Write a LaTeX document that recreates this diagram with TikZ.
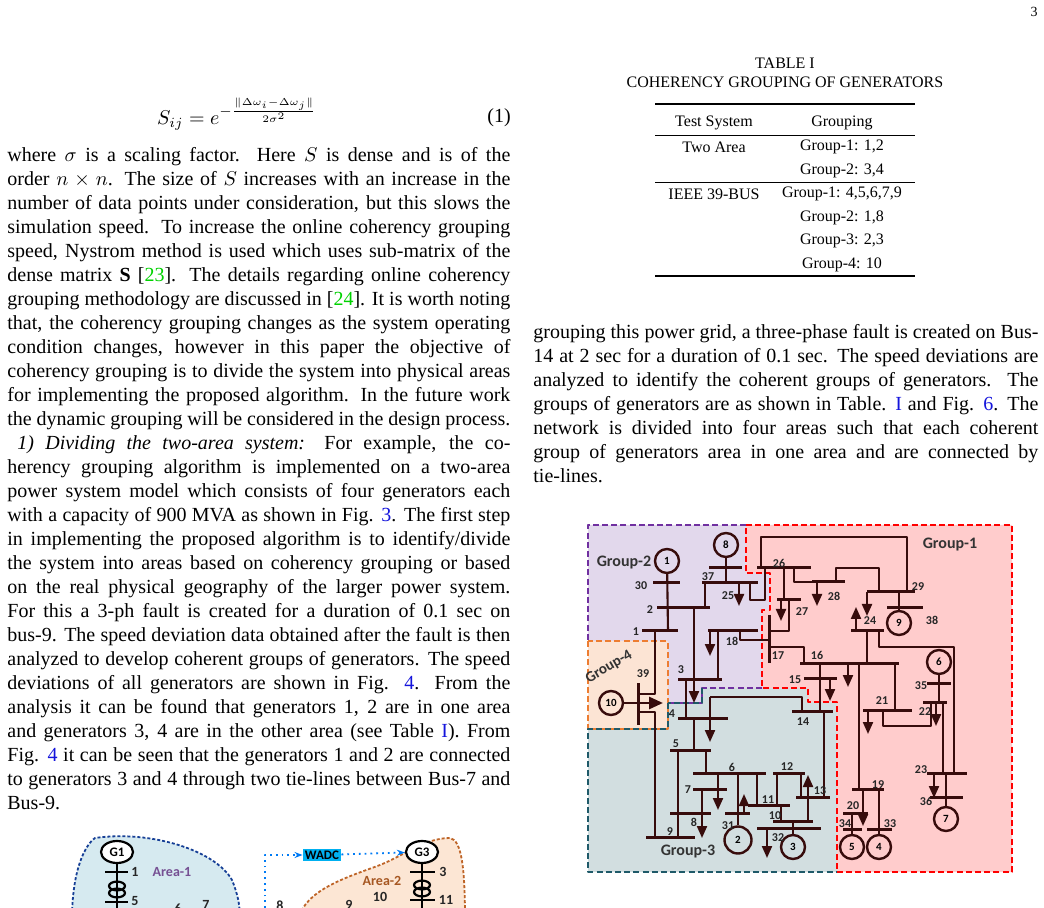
\documentclass[tikz,border=0pt]{standalone}
\usepackage{amsmath}
\usepackage{fontspec}
\setmainfont{Liberation Serif}
\newfontfamily\diagfont{Carlito}
\usepackage{xcolor}
\usetikzlibrary{arrows.meta, shapes.geometric}

\definecolor{busbrown}{RGB}{55,12,12}
\definecolor{citegreen}{RGB}{0,210,0}
\definecolor{reflink}{RGB}{20,20,220}
\definecolor{grpone}{RGB}{255,204,204}
\definecolor{grptwo}{RGB}{226,216,236}
\definecolor{grpthree}{RGB}{210,222,224}
\definecolor{grpfour}{RGB}{252,228,212}
\definecolor{edgetwo}{RGB}{112,48,160}
\definecolor{edgethree}{RGB}{31,90,105}
\definecolor{edgefour}{RGB}{237,125,49}
\definecolor{areablue}{RGB}{214,234,240}
\definecolor{areaorange}{RGB}{252,230,212}
\definecolor{wadcblue}{RGB}{0,176,240}

\newcommand{\hbus}[3]{\draw[busline] (#2,#1) -- (#3,#1);}
\hbadness=10000

\begin{document}
\begin{tikzpicture}[
        x=0.5pt, y=-0.5pt,
        line join=round,
        >=Stealth,
        busline/.style={line width=1.5pt, draw=busbrown},
        tie/.style={line width=1.05pt, draw=busbrown},
        load/.style={tie, -{Triangle[length=6pt,width=5pt]}},
        gen/.style={circle, draw=busbrown, line width=1.2pt, fill=#1, minimum size=12pt, inner sep=0pt,
            font=\diagfont\bfseries\fontsize{5.5}{5.5}\selectfont},
        num/.style={font=\diagfont\bfseries\fontsize{6}{6}\selectfont, text=black!85, inner sep=0.5pt},
        grplabel/.style={font=\diagfont\bfseries\fontsize{8}{8}\selectfont, text=black!80},
        region/.style={dash pattern=on 3pt off 1.6pt, line width=1.3pt},
        bodytext/.style={anchor=north west, inner sep=0pt, align=justify, font=\normalsize},
        tabtext/.style={font=\footnotesize, inner sep=0pt}
    ]

    % page frame
    \useasboundingbox (0,0) rectangle (1044,908);
    \fill[white] (0,0) rectangle (1044,908);
    \node[tabtext, font=\scriptsize] (pagenum) at (1034,12) {3};

    % --- equation and left column ---
    \node (eqn) at (237,114) {$S_{ij} = e^{-\frac{\|\Delta\omega_i-\Delta\omega_j\|}{2\sigma^2}}$};
    \node (eqnum) at (499,118) {(1)};

    \node[bodytext, text width=251.5pt] (leftcol) at (7,147) {%
        where $\sigma$ is a scaling factor. Here $S$ is dense and is of the\linebreak
        order $n\times n$. The size of $S$ increases with an increase in the\linebreak
        number of data points under consideration, but this slows the\linebreak
        simulation speed. To increase the online coherency grouping\linebreak
        speed, Nystrom method is used which uses sub-matrix of the\linebreak
        dense matrix \textbf{S} [\textcolor{citegreen}{23}]. The details regarding online coherency\linebreak
        grouping methodology are discussed in [\textcolor{citegreen}{24}]. It is worth noting\linebreak
        that, the coherency grouping changes as the system operating\linebreak
        condition changes, however in this paper the objective of\linebreak
        coherency grouping is to divide the system into physical areas\linebreak
        for implementing the proposed algorithm. In the future work\linebreak
        the dynamic grouping will be considered in the design process.\par
        \hspace*{5pt}\emph{1) Dividing the two-area system:} For example, the co-\linebreak
        herency grouping algorithm is implemented on a two-area\linebreak
        power system model which consists of four generators each\linebreak
        with a capacity of 900 MVA as shown in Fig. \textcolor{reflink}{3}. The first step\linebreak
        in implementing the proposed algorithm is to identify/divide\linebreak
        the system into areas based on coherency grouping or based\linebreak
        on the real physical geography of the larger power system.\linebreak
        For this a 3-ph fault is created for a duration of 0.1 sec on\linebreak
        bus-9. The speed deviation data obtained after the fault is then\linebreak
        analyzed to develop coherent groups of generators. The speed\linebreak
        deviations of all generators are shown in Fig. \textcolor{reflink}{4}. From the\linebreak
        analysis it can be found that generators 1, 2 are in one area\linebreak
        and generators 3, 4 are in the other area (see Table \textcolor{reflink}{I}). From\linebreak
        Fig. \textcolor{reflink}{4} it can be seen that the generators 1 and 2 are connected\linebreak
        to generators 3 and 4 through two tie-lines between Bus-7 and\linebreak
        Bus-9.};

    % --- table ---
    \node[tabtext] (tabnum) at (785,63) {TABLE I};
    \node[tabtext] (tabcap) at (785,82) {COHERENCY GROUPING OF GENERATORS};
    \draw[line width=0.8pt] (655,104) -- (915,104);
    \draw[line width=0.4pt] (655,135) -- (915,135);
    \draw[line width=0.4pt] (655,182) -- (915,182);
    \draw[line width=0.8pt] (655,276) -- (915,276);
    \node[tabtext] (hsys) at (714,123) {Test System};
    \node[tabtext] (hgrp) at (842,123) {Grouping};
    \node[tabtext] (twoarea) at (714,147) {Two Area};
    \node[tabtext] (ta1) at (842,147) {Group-1: 1,2};
    \node[tabtext] (ta2) at (842,171) {Group-2: 3,4};
    \node[tabtext] (ieee) at (714,194) {IEEE 39-BUS};
    \node[tabtext] (ie1) at (842,194) {Group-1: 4,5,6,7,9};
    \node[tabtext] (ie2) at (842,218) {Group-2: 1,8};
    \node[tabtext] (ie3) at (842,241) {Group-3: 2,3};
    \node[tabtext] (ie4) at (842,265) {Group-4: 10};

    % --- right column ---
    \node[bodytext, text width=252.5pt] (rightcol) at (533,324) {%
        grouping this power grid, a three-phase fault is created on Bus-\linebreak
        14 at 2 sec for a duration of 0.1 sec. The speed deviations are\linebreak
        analyzed to identify the coherent groups of generators. The\linebreak
        groups of generators are as shown in Table. \textcolor{reflink}{I} and Fig. \textcolor{reflink}{6}. The\linebreak
        network is divided into four areas such that each coherent\linebreak
        group of generators area in one area and are connected by\linebreak
        tie-lines.};

    % --- 39-bus grouping regions ---
    \fill[grpone] (746,525) -- (1012,525) -- (1012,872) -- (837,872) -- (837,702) -- (808,702) -- (808,688)
        -- (762,688) -- (762,610) -- (770,610) -- (770,573) -- (746,573) -- cycle;
    \fill[grptwo] (588,525) -- (746,525) -- (746,573) -- (770,573) -- (770,610) -- (762,610) -- (762,688)
        -- (702,688) -- (702,703) -- (668,703) -- (668,641) -- (588,641) -- cycle;
    \fill[grpfour] (588,641) rectangle (668,729);
    \fill[grpthree] (588,729) -- (668,729) -- (668,703) -- (702,703) -- (702,688) -- (808,688) -- (808,702)
        -- (837,702) -- (837,872) -- (588,872) -- cycle;
    \draw[region, red] (746,525) -- (1012,525) -- (1012,872) -- (837,872) -- (837,702) -- (808,702) -- (808,688)
        -- (762,688) -- (762,610) -- (770,610) -- (770,573) -- (746,573) -- cycle;
    \draw[region, edgetwo] (746,525) -- (588,525) -- (588,641);
    \draw[region, edgetwo] (762,688) -- (702,688) -- (702,703) -- (668,703);
    \draw[region, edgefour] (588,641) rectangle (668,729);
    \draw[region, edgethree] (668,703) -- (668,729) -- (588,729) -- (588,872) -- (837,872);
    \draw[region, edgethree] (702,688) -- (702,703) -- (668,703);

    \node[grplabel] (grp1) at (950,545) {Group-1};
    \node[grplabel] (grp2) at (624,563) {Group-2};
    \node[grplabel] (grp3) at (688,852) {Group-3};
    \node[grplabel, rotate=30, font=\diagfont\bfseries\fontsize{7.5}{8}\selectfont] (grp4) at (609,667) {Group-4};

    % buses
    \hbus{583}{653}{680} \hbus{608}{657}{710} \hbus{631}{642}{678}
    \hbus{568}{709}{742} \hbus{583}{702}{758} \hbus{679}{678}{722}
    \hbus{631}{708}{758} \hbus{718}{678}{728} \hbus{711}{792}{833}
    \hbus{678}{804}{837} \hbus{750}{670}{711} \hbus{837}{646}{695}
    \hbus{773}{693}{766} \hbus{789}{693}{727} \hbus{813}{670}{711}
    \hbus{813}{725}{750} \hbus{805}{748}{790} \hbus{821}{773}{813}
    \hbus{773}{773}{805} \hbus{797}{796}{830} \hbus{828}{757}{821}
    \hbus{568}{757}{811} \hbus{592}{867}{915} \hbus{608}{887}{923}
    \hbus{600}{777}{801} \hbus{582}{812}{845} \hbus{631}{851}{884}
    \hbus{663}{800}{899} \hbus{683}{927}{951} \hbus{710}{863}{912}
    \hbus{702}{923}{947} \hbus{773}{927}{967} \hbus{797}{930}{963}
    \hbus{789}{852}{884} \hbus{829}{867}{892} \hbus{813}{843}{868}
    \hbus{829}{843}{862}
    \draw[busline] (769,615) -- (769,663);
    \draw[busline] (638,683) -- (638,725);

    % generators
    \node[gen=grptwo] (g1) at (667,561) {1};
    \node[gen=grptwo] (g8) at (726,545) {8};
    \node[gen=grpone] (g9) at (899,623) {9};
    \node[gen=grpone] (g6) at (939,662) {6};
    \node[gen=grpone] (g7) at (946,819) {7};
    \node[gen=grpone] (g4) at (879,847) {4};
    \node[gen=grpone] (g5) at (852,847) {5};
    \node[gen=grpthree, minimum size=13.5pt] (g2) at (738,840) {2};
    \node[gen=grpthree] (g3) at (793,847) {3};
    \node[gen=grpfour] (g10) at (611,703) {10};

    % tie lines and loads
    \draw[tie] (g1) -- (668,631);
    \draw[tie] (655,631) -- (655,694) -- (638,694);
    \draw[tie] (638,712) -- (655,712) -- (655,837);
    \draw[tie] (g8) -- (726,583);
    \draw[tie] (705,583) -- (705,608);
    \draw[tie] (750,583) -- (750,600) -- (765,600) -- (765,568);
    \draw[load] (694,608) -- (694,703);
    \draw[tie] (686,679) -- (686,718);
    \draw[tie] (718,679) -- (718,631);
    \draw[load] (710,631) -- (710,656);
    \draw[tie] (740,631) -- (740,640) -- (769,640);
    \draw[load] (739,583) -- (739,606);
    \draw[tie] (710,697) -- (802,697) -- (802,711);
    \draw[load] (710,697) -- (710,742);
    \draw[tie] (694,718) -- (694,750);
    \draw[tie] (678,750) -- (678,837);
    \draw[tie] (706,750) -- (706,773);
    \draw[load] (718,773) -- (718,810);
    \draw[tie] (702,789) -- (702,813);
    \draw[load] (702,813) -- (702,838);
    \draw[tie] (738,773) -- (g2);
    \draw[load] (744,813) -- (744,794);
    \draw[tie] (757,773) -- (757,805);
    \draw[tie] (781,805) -- (781,821);
    \draw[tie] (777,773) -- (777,805);
    \draw[tie] (801,773) -- (801,797);
    \draw[tie] (824,711) -- (824,797);
    \draw[load] (808,821) -- (808,775);
    \draw[tie] (793,821) -- (g3);
    \draw[load] (767,828) -- (767,858);
    \draw[tie] (820,663) -- (820,711);
    \draw[load] (830,678) -- (830,701);
    \draw[tie] (761,568) -- (761,537) -- (907,537) -- (907,592);
    \draw[tie] (784,568) -- (784,600);
    \draw[load] (781,600) -- (781,621);
    \draw[tie] (789,600) -- (789,631) -- (769,631);
    \draw[tie] (794,568) -- (794,582) -- (812,582);
    \draw[load] (817,582) -- (817,606);
    \draw[tie] (836,582) -- (836,568) -- (879,568) -- (879,592);
    \draw[load] (867,592) -- (867,616);
    \draw[tie] (899,592) -- (g9);
    \draw[load] (856,631) -- (856,607);
    \draw[tie] (879,631) -- (879,647) -- (954,647) -- (954,773);
    \draw[tie] (867,631) -- (867,663);
    \draw[tie] (769,647) -- (804,647) -- (804,663);
    \draw[load] (848,663) -- (848,687);
    \draw[tie] (859,663) -- (859,789);
    \draw[tie] (895,663) -- (895,710);
    \draw[tie] (g6) -- (939,702);
    \draw[load] (868,710) -- (868,734);
    \draw[tie] (883,710) -- (883,726) -- (931,726) -- (931,702);
    \draw[load] (936,702) -- (936,726);
    \draw[tie] (943,702) -- (943,773);
    \draw[load] (934,773) -- (934,798);
    \draw[tie] (946,773) -- (g7);
    \draw[load] (863,789) -- (863,826);
    \draw[tie] (879,789) -- (g4);
    \draw[tie] (852,813) -- (g5);
    \draw[tie, line width=1.4pt, -{Triangle[length=7pt,width=6pt]}] (g10) -- (663,703);

    % bus numbers
    \foreach \lbl/\px/\py in {30/641/586, 2/650/610, 1/636/632, 39/643/674, 37/708/577, 25/728/596,
        3/681/670, 18/732/641, 17/778/656, 4/672/714, 14/803/722, 15/795/680, 5/676/744, 9/670/832,
        6/732/767, 7/688/790, 8/694/822, 31/728/826, 11/768/800, 10/775/816, 12/787/767, 13/820/791,
        32/778/838, 26/779/563, 29/918/587, 38/932/620, 27/802/612, 28/834/596, 24/870/621,
        16/817/655, 35/921/686, 21/882/701, 22/925/712, 23/921/770, 36/926/801, 19/878/785,
        20/853/806, 34/845/824, 33/890/824}
        \node[num] at (\px,\py) {\lbl};

    % --- two-area figure (cut by page edge) ---
    \begin{scope}
        \clip (0,0) rectangle (1044,908);
        \fill[areablue] (72,920) .. controls (72,870) and (85,845) .. (95,838)
            .. controls (150,830) and (215,850) .. (232,880) .. controls (238,895) and (240,905) .. (240,920) -- cycle;
        \draw[dash pattern=on 1.5pt off 1pt, line width=0.9pt, edgethree!70!blue] (72,920) .. controls (72,870) and (85,845) .. (95,838)
            .. controls (150,830) and (215,850) .. (232,880) .. controls (238,895) and (240,905) .. (240,920);
        \fill[areaorange] (298,920) .. controls (305,890) and (345,878) .. (380,865)
            .. controls (405,855) and (425,838) .. (450,838) .. controls (462,840) and (465,870) .. (465,920) -- cycle;
        \draw[dash pattern=on 1.5pt off 1pt, line width=0.9pt, edgefour!80!black] (298,920) .. controls (305,890) and (345,878) .. (380,865)
            .. controls (405,855) and (425,838) .. (450,838) .. controls (462,840) and (465,870) .. (465,920);
        \node[draw, line width=1.1pt, ellipse, minimum width=16pt, minimum height=11pt, inner sep=0pt, fill=white,
            font=\diagfont\bfseries\fontsize{6.5}{7}\selectfont] (ga1) at (117,852) {G1};
        \node[draw, line width=1.1pt, ellipse, minimum width=16pt, minimum height=11pt, inner sep=0pt, fill=white,
            font=\diagfont\bfseries\fontsize{6.5}{7}\selectfont] (ga3) at (422,852) {G3};
        \draw[line width=1.1pt] (ga1) -- (117,908) (105,872) -- (128,872) (105,902) -- (128,902);
        \draw[line width=1.1pt] (117,886) circle (4pt and 2.2pt) (117,893) circle (4pt and 2.2pt);
        \draw[line width=1.1pt] (ga3) -- (422,908) (410,872) -- (435,872) (410,900) -- (435,900);
        \draw[line width=1.1pt] (422,885) circle (4pt and 2.2pt) (422,892) circle (4pt and 2.2pt);
        \node[num, font=\diagfont\bfseries\fontsize{7}{7}\selectfont] (a1) at (135,872) {1};
        \node[num, font=\diagfont\bfseries\fontsize{7}{7}\selectfont] (a5) at (135,901) {5};
        \node[num, font=\diagfont\bfseries\fontsize{7}{7}\selectfont] (a3) at (443,872) {3};
        \node[num, font=\diagfont\bfseries\fontsize{7}{7}\selectfont] (a11) at (446,900) {11};
        \node[num, font=\diagfont\bfseries\fontsize{7}{7}\selectfont] (a10) at (380,897) {10};
        \node[num, font=\diagfont\bfseries\fontsize{7}{7}\selectfont] (a9) at (349,905) {9};
        \node[num, font=\diagfont\bfseries\fontsize{7}{7}\selectfont] (a6) at (178,909) {6};
        \node[num, font=\diagfont\bfseries\fontsize{7}{7}\selectfont] (a7) at (206,905) {7};
        \node[num, font=\diagfont\bfseries\fontsize{7}{7}\selectfont] (a8) at (280,906) {8};
        \node[font=\diagfont\bfseries\fontsize{7}{8}\selectfont, text=edgetwo!60!gray] (area1) at (172,872) {Area-1};
        \node[font=\diagfont\bfseries\fontsize{7}{8}\selectfont, text=edgefour!70!black] (area2) at (382,881) {Area-2};
        \node[fill=wadcblue, inner sep=1pt, font=\diagfont\bfseries\fontsize{6.5}{7}\selectfont] (wadc) at (322,855) {WADC};
        \coordinate (measure) at (265,908);
        \draw[dotted, line width=0.9pt, wadcblue!70!blue, -{Stealth[length=4pt]}] (measure) |- (wadc);
        \draw[dotted, line width=0.9pt, wadcblue!70!blue, -{Stealth[length=4pt]}] (wadc) -- (ga3);
    \end{scope}
\end{tikzpicture}
\end{document}
